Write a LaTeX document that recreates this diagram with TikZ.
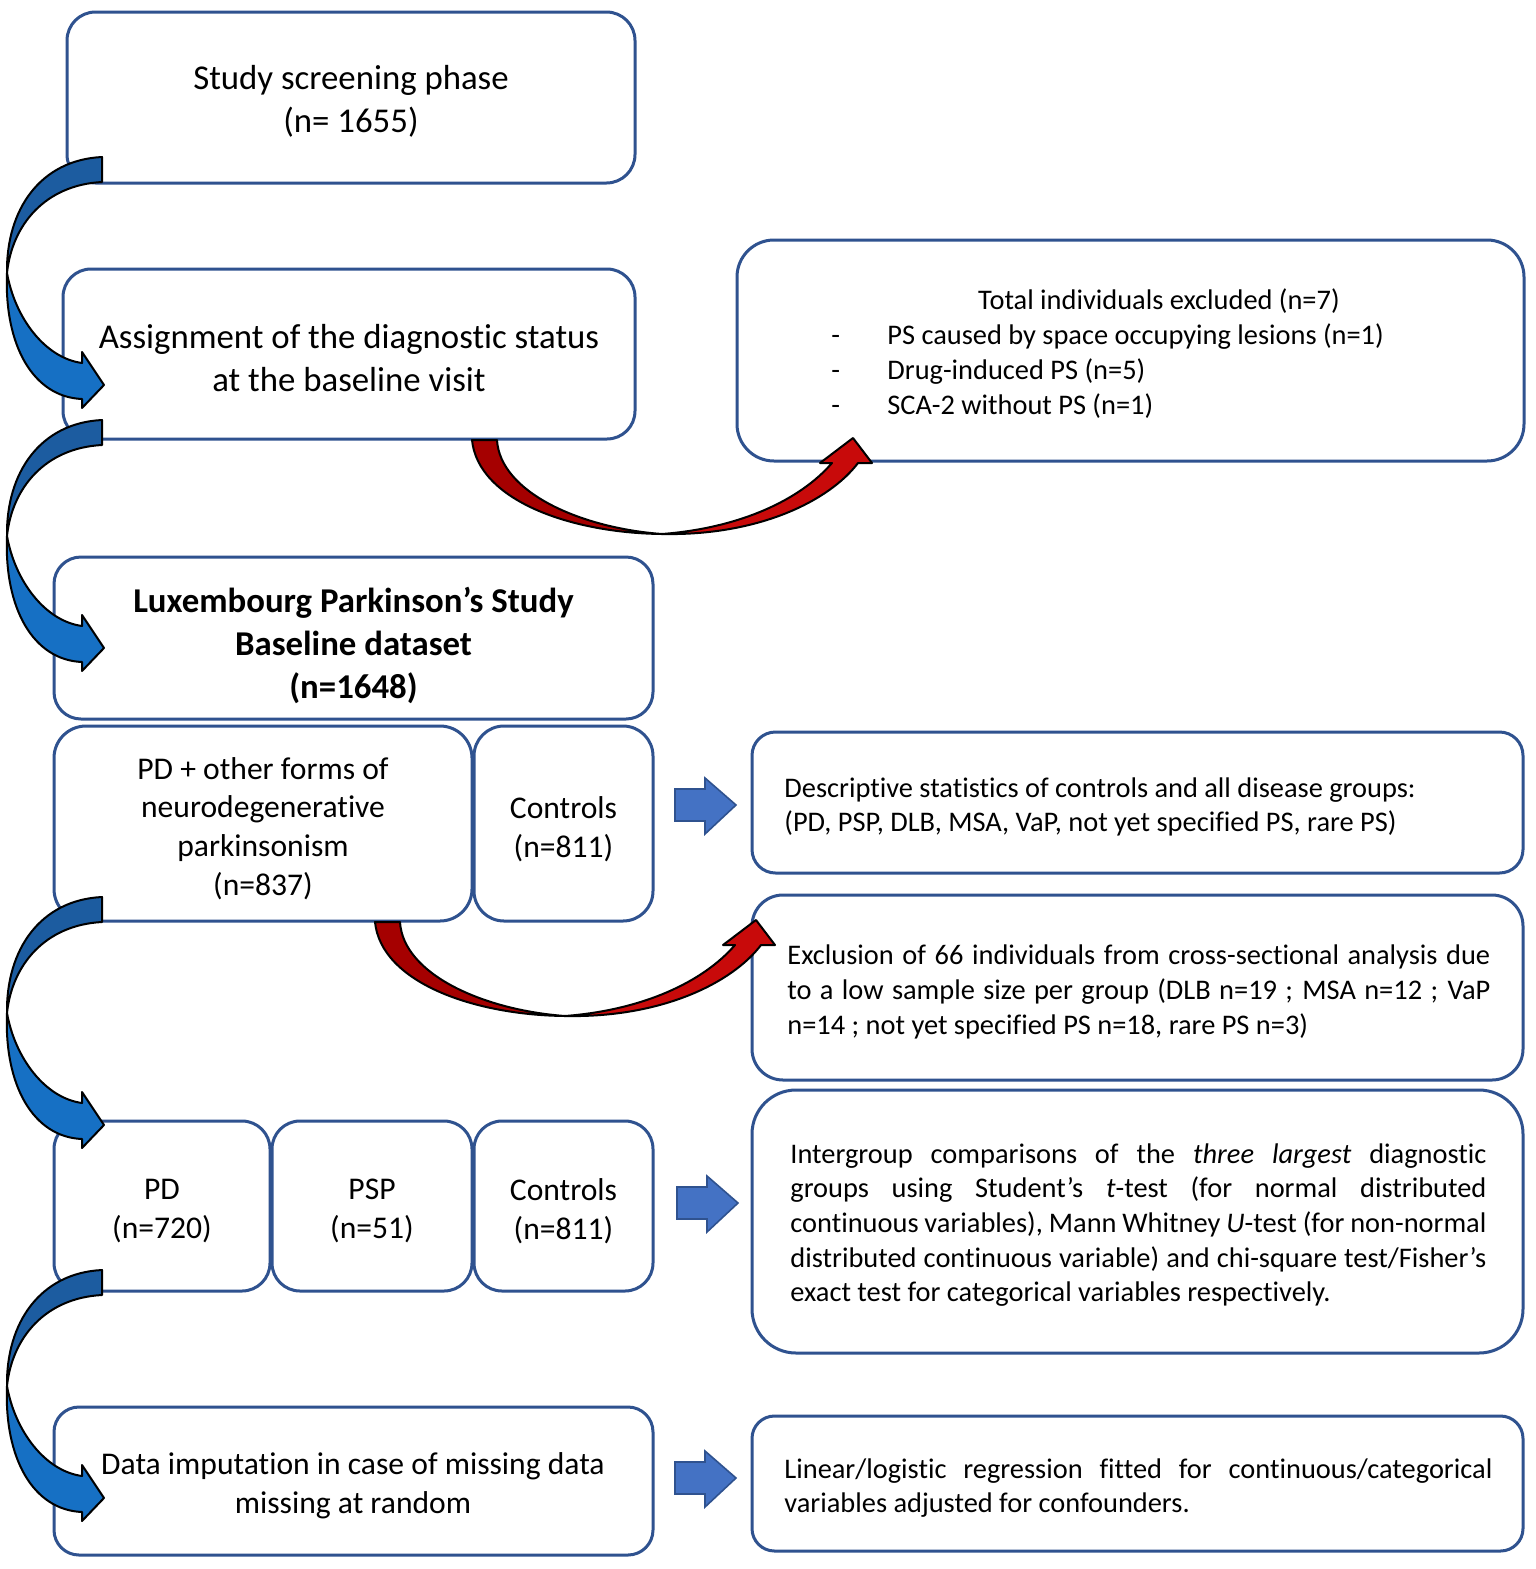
\documentclass[tikz,border=0pt]{standalone}
\usepackage{fontspec}
\setmainfont{Carlito}[Ligatures=NoCommon]
\definecolor{boxblue}{RGB}{47,82,143}
\definecolor{arrfill}{RGB}{68,114,196}
\definecolor{bluedark}{RGB}{28,92,160}
\definecolor{bluelight}{RGB}{22,112,196}
\definecolor{reddark}{RGB}{165,0,0}
\definecolor{redlight}{RGB}{200,10,10}
\newcommand\fbig{\fontsize{17.4}{21.5}\selectfont}
\newcommand\fmid{\fontsize{15.8}{19.4}\selectfont}
\newcommand\fsmall{\fontsize{14.2}{17.3}\selectfont}
\newcommand\bluecurve[1]{%
\begin{scope}[shift={(0,#1)}]
\path[curv, fill=bluedark] (102,157) .. controls (40,160) and (6,210) .. (7,273) .. controls (12,225) and (45,185) .. (102,182) -- cycle;
\path[curv, fill=bluelight] (7,273) .. controls (15,318) and (45,358) .. (82,363) -- (82,352) -- (104,385) -- (82,408) -- (82,399) .. controls (33,397) and (4,345) .. (7,273) -- cycle;
\end{scope}}
\newcommand\redcurve[2]{%
\begin{scope}[shift={(#1,#2)}]
\path[curv, fill=reddark] (472,440) .. controls (478,500) and (570,533) .. (662,534) .. controls (580,528) and (500,492) .. (497,440) -- cycle;
\path[curv, fill=redlight] (662,534) .. controls (760,536) and (830,500) .. (858,463) -- (872,463) -- (853,438) -- (820,463) -- (832,463) .. controls (800,500) and (740,528) .. (662,534) -- cycle;
\end{scope}}
\newcommand\blockarrow[2]{%
\path[blockarr, shift={(#1,#2)}] (675,789) -- (705,789) -- (705,778) -- (736,805) -- (705,834) -- (705,821) -- (675,821) -- cycle;}
\begin{document}
\begin{tikzpicture}[x=0.5pt,y=-0.5pt,
 box/.style={draw=boxblue, line width=1.5pt, fill=white},
 txt/.style={inner sep=0pt, align=center, text=black, yshift=-1.25pt},
 curv/.style={draw=black, line width=1pt, line join=round},
 blockarr/.style={fill=arrfill, draw=boxblue, line width=0.8pt, line join=miter}]
\useasboundingbox (0,0) rectangle (1536,1569);
\fill[white] (0,0) rectangle (1536,1569);
% boxes
\draw[box, rounded corners=14.25pt] (67,12) rectangle (635,183);
\draw[box, rounded corners=14pt] (63,269) rectangle (635,439);
\draw[box, rounded corners=18.5pt] (737,240) rectangle (1524,461);
\draw[box, rounded corners=13.5pt] (54,557) rectangle (653,719);
\draw[box, rounded corners=16pt] (54,726) rectangle (472,921);
\draw[box, rounded corners=15pt] (474,726) rectangle (653,921);
\draw[box, rounded corners=11.75pt] (752,732) rectangle (1523,873);
\draw[box, rounded corners=15.5pt] (752,895) rectangle (1523,1080);
\draw[box, rounded corners=14pt] (54,1121) rectangle (270,1291);
\draw[box, rounded corners=14pt] (272,1121) rectangle (472,1291);
\draw[box, rounded corners=14pt] (474,1121) rectangle (653,1291);
\draw[box, rounded corners=22pt] (752,1090) rectangle (1523,1353);
\draw[box, rounded corners=12.5pt] (54,1407) rectangle (653,1555);
\draw[box, rounded corners=11.25pt] (752,1416) rectangle (1523,1551);
% texts
\node[txt, font=\fbig] (t1) at (351,98.5) {Study screening phase\\(n= 1655)};
\node[txt, font=\fbig] (t2) at (349,355.5) {Assignment of the diagnostic status\\at the baseline visit};
\node[txt, font=\fsmall] (t3) at (1159,299) {Total individuals excluded (n=7)};
\node[txt, font=\fsmall, align=left, anchor=west] (t3b) at (831,368.5) {\makebox[28pt][l]{-}PS caused by space occupying lesions (n=1)\\\makebox[28pt][l]{-}Drug-induced PS (n=5)\\\makebox[28pt][l]{-}SCA-2 without PS (n=1)};
\node[txt, font=\fbig\bfseries] (t4) at (353.5,643) {Luxembourg Parkinson’s Study\\Baseline dataset\\(n=1648)};
\node[txt, font=\fmid] (t5) at (263,826) {PD + other forms of\\neurodegenerative\\parkinsonism\\(n=837)};
\node[txt, font=\fmid] (t6) at (563.5,826.5) {Controls\\(n=811)};
\node[txt, font=\fsmall, align=left, anchor=west] (t7) at (784,804.5) {Descriptive statistics of controls and all disease groups:\\(PD, PSP, DLB, MSA, VaP, not yet specified PS, rare PS)};
\node[txt, font=\fsmall, align=left, anchor=west] (t8) at (787,989.5) {\makebox[351.5pt][s]{Exclusion of 66 individuals from cross-sectional analysis due}\\\makebox[351.5pt][s]{to a low sample size per group (DLB n=19 ; MSA n=12 ; VaP}\\n=14 ; not yet specified PS n=18, rare PS n=3)};
\node[txt, font=\fmid] (t9) at (162,1208.5) {PD\\(n=720)};
\node[txt, font=\fmid] (t10) at (372,1208.5) {PSP\\(n=51)};
\node[txt, font=\fmid] (t11) at (563.5,1208.5) {Controls\\(n=811)};
\node[txt, font=\fsmall, align=left, anchor=west] (t12) at (790,1222.5) {\makebox[348pt][s]{Intergroup comparisons of the \textit{three largest} diagnostic}\\\makebox[348pt][s]{groups using Student’s \textit{t}-test (for normal distributed}\\\makebox[348pt][s]{continuous variables), Mann Whitney \textit{U}-test (for non-normal}\\\makebox[348pt][s]{distributed continuous variable) and chi-square test/Fisher’s}\\exact test for categorical variables respectively.};
\node[txt, font=\fmid] (t13) at (353,1483) {Data imputation in case of missing data\\missing at random};
\node[txt, font=\fsmall, align=left, anchor=west] (t14) at (784,1485.5) {\makebox[354pt][s]{Linear/logistic regression fitted for continuous/categorical}\\variables adjusted for confounders.};
% arrows
\bluecurve{0}
\bluecurve{263}
\bluecurve{740}
\bluecurve{1113}
\redcurve{0}{0}
\redcurve{-97}{482}
\blockarrow{0}{0}
\blockarrow{2}{398}
\blockarrow{0}{673}
\end{tikzpicture}
\end{document}
